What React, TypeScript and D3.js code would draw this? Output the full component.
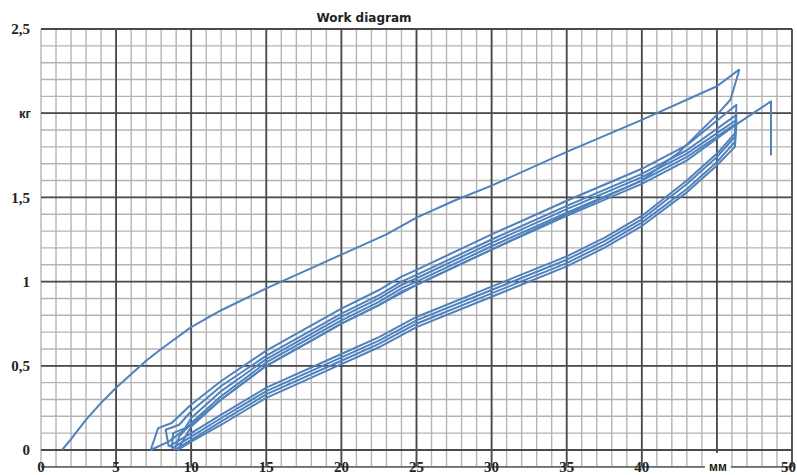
import React from "react";
import * as d3 from "d3";

type Pt = [number, number];

// Displacement (mm) vs force (kg) recorded over a series of load/unload cycles.
const firstLoad: Pt[] = [
  [1.4, 0.0], [2, 0.065], [3, 0.18], [4, 0.28], [5, 0.37], [6, 0.45], [7, 0.53],
  [8, 0.6], [10, 0.73], [12, 0.83], [15, 0.96], [18, 1.08], [20, 1.16],
  [23, 1.28], [25, 1.38], [27.5, 1.48], [30, 1.57], [35, 1.77], [40, 1.96],
  [45, 2.16], [46.5, 2.26],
];
const firstUnload: Pt[] = [
  [46.5, 2.26], [45.9, 2.08], [45, 1.99], [42.5, 1.77], [40, 1.6], [37.5, 1.5],
  [35, 1.4], [30, 1.19], [25, 0.98], [24, 0.94], [22.5, 0.86], [20, 0.75],
  [18, 0.65], [15, 0.5], [12, 0.3], [10, 0.15], [8.5, 0.05], [7.3, 0.0],
];
const cycle1: Pt[] = [
  [7.3, 0.0], [7.8, 0.13], [8.7, 0.16], [10, 0.27], [12, 0.41], [15, 0.59],
  [18, 0.74], [20, 0.84], [22.5, 0.95], [24, 1.03], [25, 1.07], [30, 1.28],
  [35, 1.48], [40, 1.67], [43, 1.81], [46.3, 2.05],
  [46.2, 1.88], [45, 1.76], [43, 1.6], [40, 1.39], [37.5, 1.26], [35, 1.15],
  [30, 0.97], [25, 0.79], [22.5, 0.67], [20, 0.57], [15, 0.37], [12, 0.21],
  [10, 0.1], [8.5, 0.02],
];
const cycle2: Pt[] = [
  [8.5, 0.02], [8.3, 0.12], [9.2, 0.15], [10, 0.23], [12, 0.38], [15, 0.56],
  [18, 0.71], [20, 0.81], [22.5, 0.92], [24, 1.0], [25, 1.04], [30, 1.25],
  [35, 1.45], [40, 1.64], [43, 1.78], [46.3, 1.99],
  [46.2, 1.86], [45, 1.74], [43, 1.58], [40, 1.37], [37.5, 1.24], [35, 1.13],
  [30, 0.95], [25, 0.77], [22.5, 0.65], [20, 0.55], [15, 0.35], [12, 0.19],
  [10, 0.08], [8.7, 0.01],
];
const cycle3: Pt[] = [
  [8.7, 0.01], [8.8, 0.1], [9.6, 0.13], [10, 0.19], [12, 0.35], [15, 0.54],
  [18, 0.69], [20, 0.79], [22.5, 0.9], [24, 0.98], [25, 1.02], [30, 1.23],
  [35, 1.43], [40, 1.62], [43, 1.76], [46.3, 1.96],
  [46.2, 1.83], [45, 1.71], [43, 1.55], [40, 1.35], [37.5, 1.22], [35, 1.11],
  [30, 0.93], [25, 0.75], [22.5, 0.63], [20, 0.53], [15, 0.33], [12, 0.17],
  [10, 0.06], [8.9, 0.0],
];
const cycle4: Pt[] = [
  [8.9, 0.0], [9.2, 0.08], [10, 0.16], [12, 0.32], [15, 0.52], [18, 0.67],
  [20, 0.77], [22.5, 0.88], [24, 0.96], [25, 1.0], [30, 1.21], [35, 1.41],
  [40, 1.6], [43, 1.74], [46.3, 1.94],
  [46.2, 1.8], [45, 1.69], [43, 1.53], [40, 1.33], [37.5, 1.2], [35, 1.09],
  [30, 0.91], [25, 0.73], [22.5, 0.61], [20, 0.51], [15, 0.31], [12, 0.15],
  [10, 0.05], [9.1, 0.0],
];
const finalLoad: Pt[] = [
  [9.1, 0.0], [10, 0.14], [12, 0.3], [15, 0.5], [18, 0.65], [20, 0.75],
  [22.5, 0.86], [25, 0.98], [30, 1.19], [35, 1.39], [40, 1.58], [43, 1.72],
  [46.4, 1.94], [48.6, 2.07], [48.6, 1.75],
];

const traces: Pt[][] = [firstLoad, firstUnload, cycle1, cycle2, cycle3, cycle4, finalLoad];

const xTickLabels = ["0", "5", "10", "15", "20", "25", "30", "35", "40", "мм", "50"];
const yTickLabels = ["0", "0,5", "1", "1,5", "кг", "2,5"];

const W = 797;
const H = 475;

export default function App() {
  const x = d3.scaleLinear().domain([0, 50]).range([41, 792]);
  const y = d3.scaleLinear().domain([0, 2.5]).range([450, 29]);

  const xMinor = d3.range(0, 51, 1);
  const yMinor = d3.range(-1, 26, 1).map((i) => i / 10);
  const xMajor = d3.range(0, 51, 5);
  const yMajor = d3.range(0, 6, 1).map((i) => i * 0.5);

  const line = d3
    .line<Pt>()
    .x((d) => x(d[0]))
    .y((d) => y(d[1]));

  const yBottom = y(-0.1);
  const serif = "'Liberation Serif', 'DejaVu Serif', serif";
  const sans = "'Liberation Sans', Arial, sans-serif";

  return (
    <svg
      width={W}
      height={H}
      style={{ position: "absolute", left: 0, top: 0, background: "#fff" }}
    >
      <rect x={0} y={0} width={W} height={H} fill="#fff" />
      {/* minor grid */}
      <g stroke="#b4b4b4" strokeWidth={1.4}>
        {xMinor.map((v) => (
          <line key={"xm" + v} x1={x(v)} x2={x(v)} y1={y(2.5)} y2={yBottom} />
        ))}
        {yMinor.map((v) => (
          <line key={"ym" + v} x1={x(0)} x2={x(50)} y1={y(v)} y2={y(v)} />
        ))}
      </g>
      {/* major grid */}
      <g stroke="#4a4a4a" strokeWidth={1.8}>
        {xMajor
          .filter((v) => v > 0)
          .map((v) => (
            <line key={"xM" + v} x1={x(v)} x2={x(v)} y1={y(2.5)} y2={yBottom} />
          ))}
        {yMajor.map((v) => (
          <line key={"yM" + v} x1={x(0)} x2={x(50)} y1={y(v)} y2={y(v)} />
        ))}
      </g>
      <line x1={x(0)} x2={x(50)} y1={yBottom} y2={yBottom} stroke="#6a6a6a" strokeWidth={1.6} />

      {/* recorded traces */}
      <g fill="none" stroke="#4f81bd" strokeWidth={2} strokeLinejoin="round">
        {traces.map((t, i) => (
          <path key={i} d={line(t) ?? ""} />
        ))}
      </g>

      {/* y labels */}
      {yTickLabels.map((t, i) => (
        <text
          key={"yl" + i}
          x={t === "кг" ? 31 : 30}
          y={y(yMajor[i])}
          dy="0.35em"
          textAnchor="end"
          fontFamily={t === "кг" ? sans : serif}
          fontWeight="bold"
          fontSize={t === "кг" ? 13 : 15}
          fill="#222"
        >
          {t}
        </text>
      ))}

      {/* x labels */}
      {xTickLabels.map((t, i) => {
        const last = i === xTickLabels.length - 1;
        if (t === "мм") {
          return (
            <g key={"xl" + i}>
              <rect x={x(xMajor[i]) - 12} y={453} width={26} height={22} fill="#fff" />
              <text
                x={x(xMajor[i]) + 1}
                y={yBottom}
                dy="0.35em"
                textAnchor="middle"
                fontFamily={sans}
                fontWeight="bold"
                fontSize={12}
                fill="#222"
              >
                {t}
              </text>
            </g>
          );
        }
        return (
          <text
            key={"xl" + i}
            x={last ? W - 1 : x(xMajor[i])}
            y={yBottom}
            dy="0.35em"
            textAnchor={last ? "end" : "middle"}
            fontFamily={serif}
            fontWeight="bold"
            fontSize={15}
            fill="#222"
          >
            {t}
          </text>
        );
      })}

      <text
        x={364}
        y={22}
        textAnchor="middle"
        fontFamily="'DejaVu Sans', Verdana, sans-serif"
        fontWeight="bold"
        fontSize={12}
        fill="#222"
      >
        Work diagram
      </text>
    </svg>
  );
}
